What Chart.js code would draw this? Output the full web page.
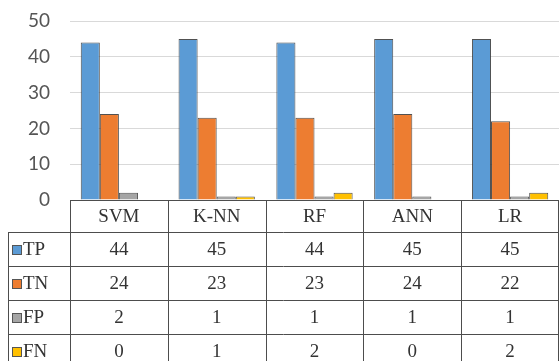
<!DOCTYPE html>
<html>
<head>
<meta charset="utf-8">
<script src="https://cdn.jsdelivr.net/npm/chart.js@4"></script>
<style>
  html, body { margin: 0; padding: 0; background: #fff; }
  #wrap { width: 559px; height: 361px; }
</style>
</head>
<body>
<div id="wrap"><canvas id="myChart" width="559" height="361"></canvas></div>
<script>
var categories = ['SVM', 'K-NN', 'RF', 'ANN', 'LR'];
var seriesNames = ['TP', 'TN', 'FP', 'FN'];
var tpValues = [44, 45, 44, 45, 45];
var tnValues = [24, 23, 23, 24, 22];
var fpValues = [2, 1, 1, 1, 1];
var fnValues = [0, 1, 2, 0, 2];
var yTicks = [0, 10, 20, 30, 40, 50];

var colors = ['#5b9bd5', '#ed7d31', '#a5a5a5', '#ffc000'];
var allValues = [tpValues, tnValues, fpValues, fnValues];
var tableFont = '19px "Liberation Serif", "Times New Roman", serif';

// data table under the plot, drawn from the same arrays
var tablePlugin = {
    id: 'dataTable',
    afterDraw: function (chart) {
        var c = chart.ctx;
        var area = chart.chartArea;
        var xs = chart.scales.x;
        var colW = (area.right - area.left) / categories.length;
        var top = Math.round(area.bottom);
        var headH = 32, rowH = 34;
        var legLeft = 8.5;
        var right = area.right - 0.5;
        var bottom = chart.height + 10;

        c.save();
        c.strokeStyle = '#4d4d4d';
        c.lineWidth = 1;
        c.beginPath();
        c.moveTo(area.left, top + 0.5); c.lineTo(right, top + 0.5);
        for (var r = 0; r < seriesNames.length; r++) {
            var y = top + headH + r * rowH + 0.5;
            c.moveTo(legLeft, y); c.lineTo(right, y);
        }
        for (var i = 0; i <= categories.length; i++) {
            var x = Math.round(area.left + i * colW) + 0.5;
            if (i === categories.length) x = right;
            c.moveTo(x, top); c.lineTo(x, bottom);
        }
        c.moveTo(legLeft, top + headH); c.lineTo(legLeft, bottom);
        c.stroke();

        c.fillStyle = '#333';
        c.font = tableFont;
        c.textAlign = 'center';
        c.textBaseline = 'middle';
        categories.forEach(function (cat, i) {
            var cx = xs.getPixelForTick(i);
            c.fillText(cat, cx, top + headH / 2 + 1);
            for (var r = 0; r < seriesNames.length; r++) {
                c.fillText(String(allValues[r][i]), cx, top + headH + r * rowH + rowH / 2 + 1);
            }
        });

        c.textAlign = 'left';
        for (var r = 0; r < seriesNames.length; r++) {
            var cy = top + headH + r * rowH + rowH / 2;
            var sy = Math.round(cy - 4);
            c.fillStyle = colors[r];
            c.fillRect(12, sy, 10, 10);
            c.strokeStyle = '#555';
            c.strokeRect(12.5, sy + 0.5, 9, 9);
            c.fillStyle = '#333';
            c.fillText(seriesNames[r], 23, cy + 1);
        }
        c.restore();
    }
};

var ctx = document.getElementById('myChart').getContext('2d');
var myChart = new Chart(ctx, {
    type: 'bar',
    data: {
        labels: categories,
        datasets: seriesNames.map(function (name, i) {
            return {
                label: name,
                data: allValues[i],
                backgroundColor: colors[i],
                borderColor: 'rgba(50, 50, 50, 0.85)',
                borderWidth: 1,
                barPercentage: 1.0,
                categoryPercentage: 0.78
            };
        })
    },
    options: {
        responsive: false,
        animation: false,
        layout: {
            padding: { top: 21, right: 0, bottom: 161, left: 0 }
        },
        plugins: {
            legend: { display: false },
            tooltip: { enabled: false }
        },
        scales: {
            x: {
                display: false
            },
            y: {
                min: 0,
                max: 50,
                afterFit: function (scale) {
                    scale.width = 70;
                    scale.paddingTop = 0;
                    scale.paddingBottom = 0;
                },
                afterBuildTicks: function (scale) {
                    scale.ticks = yTicks.map(function (v) { return { value: v }; });
                },
                grid: {
                    color: '#d9d9d9',
                    drawTicks: false
                },
                border: { display: false },
                ticks: {
                    padding: 20,
                    color: '#555',
                    font: { family: 'Lato, "Open Sans", sans-serif', size: 19 }
                }
            }
        }
    },
    plugins: [tablePlugin]
});
</script>
</body>
</html>
